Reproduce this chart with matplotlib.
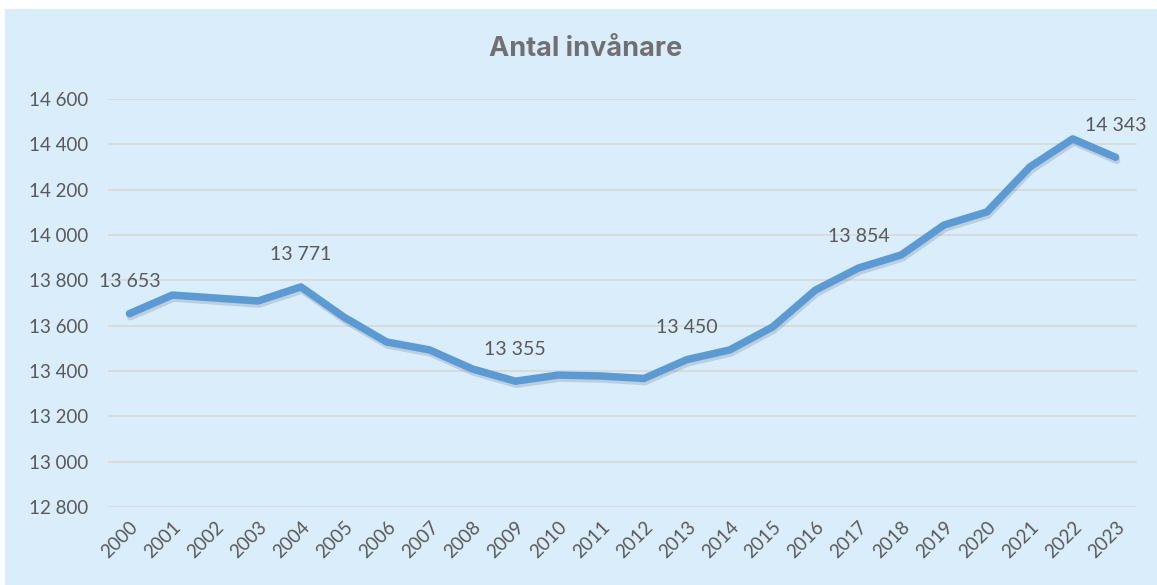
import matplotlib.pyplot as plt
import matplotlib.patheffects as pe
from matplotlib.patches import Rectangle

# data
years = [2000, 2001, 2002, 2003, 2004, 2005, 2006, 2007, 2008, 2009, 2010, 2011,
         2012, 2013, 2014, 2015, 2016, 2017, 2018, 2019, 2020, 2021, 2022, 2023]
invanare = [13653, 13735, 13722, 13709, 13771, 13638, 13528, 13493, 13409, 13355, 13382, 13378,
            13367, 13450, 13493, 13594, 13757, 13854, 13912, 14044, 14102, 14300, 14424, 14343]
labelled_years = [2000, 2004, 2009, 2013, 2017, 2023]
y_ticks = [12800, 13000, 13200, 13400, 13600, 13800, 14000, 14200, 14400, 14600]

title = "Antal invånare"
bg = "#DAEDFB"
grey = "#595959"
blue = "#5B9BD5"

plt.rcParams['font.family'] = ['Lato', 'DejaVu Sans']


def fmt(v):
    return f"{v:,}".replace(",", " ")


fig = plt.figure(figsize=(11.57, 5.85), dpi=100, facecolor="white")
fig.patches.append(Rectangle((5 / 1157, 0), 1, 1 - 9 / 585, transform=fig.transFigure,
                             facecolor=bg, edgecolor="none", zorder=-10))

ax = fig.add_axes([108 / 1157, 78 / 585, 1029 / 1157, 408 / 585])
ax.set_facecolor("none")

x = list(range(len(years)))
ax.plot(x, invanare, color=blue, lw=5.4, solid_capstyle="round", solid_joinstyle="round",
        zorder=3,
        path_effects=[pe.SimpleLineShadow(offset=(0.8, -2.2), shadow_color="#7a8a99", alpha=0.3),
                      pe.Normal()])

# data labels centred above their points
for yr in labelled_years:
    i = years.index(yr)
    ax.annotate(fmt(invanare[i]), (i, invanare[i]), xytext=(0, 23),
                textcoords="offset points", ha="center", va="center",
                fontsize=14, color=grey, annotation_clip=False, zorder=4)

ax.set_xlim(-0.5, len(years) - 0.5)
ax.set_ylim(12800, 14600)
ax.set_yticks(y_ticks)
ax.set_yticklabels([fmt(v) for v in y_ticks])
ax.set_xticks(x)
ax.set_xticklabels([str(y) for y in years], rotation=45, ha="right", va="top",
                   rotation_mode="anchor")
ax.tick_params(axis="both", length=0, labelsize=13.5, labelcolor=grey)
ax.tick_params(axis="y", pad=14)
ax.tick_params(axis="x", pad=8)
ax.grid(axis="y", color="#D9D9D9", lw=1.3)
ax.set_axisbelow(True)
for s in ax.spines.values():
    s.set_visible(False)

fig.text(0.506, 1 - 49 / 585, title, ha="center", va="center", fontsize=19.5,
         fontfamily=["Inter", "DejaVu Sans"], fontweight="bold", color="#707070")

fig.savefig("out.png", dpi=100, facecolor="white")
